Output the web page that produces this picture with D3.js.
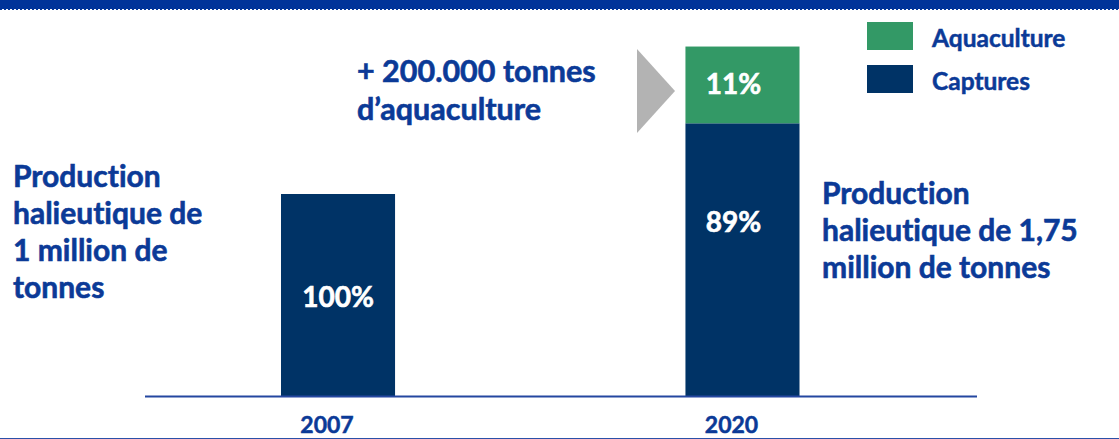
<!DOCTYPE html>
<html>
<head>
<meta charset="utf-8">
<script src="https://cdn.jsdelivr.net/npm/d3@7"></script>
<style>
  html, body { margin: 0; padding: 0; background: #fff; }
  svg { display: block; font-family: Lato, "Open Sans", sans-serif; font-weight: 700; font-variant-ligatures: none; }
</style>
</head>
<body>
<svg id="chart" width="1119" height="439"></svg>
<script>
// ---------------- DATA ----------------
const years = ["2007", "2020"];
const captures = [1.0, 1.35];       // million tonnes (as drawn)
const aquaculture = [0, 0.38];
const capturesLabel = ["100%", "89%"];
const aquaLabel = [null, "11%"];
const seriesNames = ["Aquaculture", "Captures"];
const leftNote = ["Production", "halieutique de", "1 million de", "tonnes"];
const rightNote = ["Production", "halieutique de 1,75", "million de tonnes"];
const arrowNote = ["+ 200.000 tonnes", "d\u2019aquaculture"];

const NAVY = "#003366", GREEN = "#339966", TEXT = "#0b3a97";

// ---------------- SETUP ----------------
const width = 1119, height = 439;
const svg = d3.select("#chart");

// top band with dashed edge
svg.append("rect").attr("x", 0).attr("y", 0).attr("width", width).attr("height", 9).attr("fill", "#003399");
svg.append("line").attr("x1", 0).attr("x2", width).attr("y1", 9.5).attr("y2", 9.5)
  .attr("stroke", "#003399").attr("stroke-width", 1).attr("stroke-dasharray", "2,2");
// bottom rule
svg.append("line").attr("x1", 0).attr("x2", width).attr("y1", 438.5).attr("y2", 438.5)
  .attr("stroke", "#2b50a8").attr("stroke-width", 1);

const x = d3.scaleBand()
  .domain(years)
  .range([136, 944.5])
  .paddingInner(0.718)
  .paddingOuter(0.3585);

const y = d3.scaleLinear()
  .domain([0, 1])
  .range([396, 194]);

const rows = years.map((yr, i) => ({ year: yr, cap: captures[i], aqua: aquaculture[i], capLab: capturesLabel[i], aquaLab: aquaLabel[i] }));

// ---------------- BARS ----------------
const g = svg.append("g");

g.selectAll("rect.cap")
  .data(rows)
  .join("rect")
  .attr("class", "cap")
  .attr("x", d => x(d.year))
  .attr("width", x.bandwidth())
  .attr("y", d => y(d.cap))
  .attr("height", d => y(0) - y(d.cap))
  .attr("fill", NAVY);

g.selectAll("rect.aqua")
  .data(rows.filter(d => d.aqua > 0))
  .join("rect")
  .attr("class", "aqua")
  .attr("x", d => x(d.year))
  .attr("width", x.bandwidth())
  .attr("y", d => y(d.cap + d.aqua))
  .attr("height", d => y(d.cap) - y(d.cap + d.aqua))
  .attr("fill", GREEN);

// percentage labels
g.selectAll("text.capLab")
  .data(rows)
  .join("text")
  .attr("class", "capLab")
  .attr("x", d => x(d.year) + x.bandwidth() / 2 - (d.aqua > 0 ? 9 : 0))
  .attr("y", d => d.aqua > 0 ? y(d.cap) + 109 : 307)
  .attr("text-anchor", "middle")
  .attr("fill", "#fff")
  .attr("stroke", "#fff").attr("stroke-width", 0.6)
  .attr("font-size", 28)
  .text(d => d.capLab);

g.selectAll("text.aquaLab")
  .data(rows.filter(d => d.aquaLab))
  .join("text")
  .attr("class", "aquaLab")
  .attr("x", d => x(d.year) + x.bandwidth() / 2 - 9)
  .attr("y", d => (y(d.cap) + y(d.cap + d.aqua)) / 2 + 9)
  .attr("text-anchor", "middle")
  .attr("fill", "#fff")
  .attr("stroke", "#fff").attr("stroke-width", 0.6)
  .attr("font-size", 28)
  .text(d => d.aquaLab);

// ---------------- AXIS ----------------
svg.append("line")
  .attr("x1", 145).attr("x2", 977)
  .attr("y1", y(0) + 0.5).attr("y2", y(0) + 0.5)
  .attr("stroke", "#2447a0").attr("stroke-width", 2);

const axis = svg.append("g")
  .attr("transform", `translate(0,${y(0)})`)
  .call(d3.axisBottom(x).tickSize(0).tickPadding(0));
axis.select(".domain").remove();
axis.selectAll("text")
  .attr("dx", -11)
  .attr("y", 37)
  .attr("dy", 0)
  .attr("fill", TEXT)
  .attr("stroke", TEXT).attr("stroke-width", 0.5)
  .attr("font-size", 23)
  .attr("font-family", "Lato, sans-serif")
  .attr("font-weight", 700);

// ---------------- ARROW ----------------
svg.append("path")
  .attr("d", d3.line()([[637, 49], [675, 91], [637, 133]]) + "Z")
  .attr("fill", "#b3b3b3");

// ---------------- NOTES ----------------
function note(lines, x0, y0, lh, size) {
  svg.append("text")
    .attr("fill", TEXT)
    .attr("stroke", TEXT).attr("stroke-width", 0.6)
    .attr("font-size", size)
    .selectAll("tspan")
    .data(lines)
    .join("tspan")
    .attr("x", x0)
    .attr("y", (d, i) => y0 + i * lh)
    .text(d => d);
}
note(leftNote, 13, 187, 37, 30);
note(arrowNote, 357, 82, 38, 30.5);
note(rightNote, 822, 204, 37, 30);

// ---------------- LEGEND ----------------
const legend = svg.append("g");
const leg = legend.selectAll("g")
  .data(seriesNames)
  .join("g")
  .attr("transform", (d, i) => `translate(867,${22 + i * 43})`);
leg.append("rect")
  .attr("width", 46).attr("height", 28)
  .attr("fill", (d, i) => i === 0 ? GREEN : NAVY);
leg.append("text")
  .attr("x", 65).attr("y", 25)
  .attr("fill", TEXT)
  .attr("stroke", TEXT).attr("stroke-width", 0.5)
  .attr("font-size", 24.5)
  .text(d => d);
</script>
</body>
</html>
